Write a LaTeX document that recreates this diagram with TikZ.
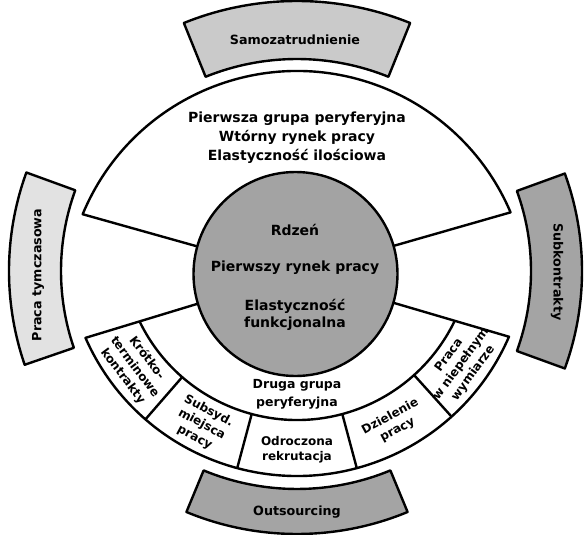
\documentclass[tikz,border=0pt]{standalone}
\usepackage{fontspec}
\setmainfont{DejaVu Sans}
\usetikzlibrary{calc}
\definecolor{bandlight}{HTML}{E2E2E2}
\definecolor{bandmid}{HTML}{CACACA}
\definecolor{banddark}{HTML}{A4A4A4}
\definecolor{coregray}{HTML}{A3A3A3}
\begin{document}
\begin{tikzpicture}[x=1pt,y=-1pt,
  outline/.style={draw=black,line width=2.4pt,line join=round},
  lbl/.style={font=\bfseries\fontsize{14}{19}\selectfont,align=center,inner sep=0pt},
  bandlbl/.style={font=\bfseries\fontsize{12.7}{15}\selectfont,inner sep=0pt},
  boxlbl/.style={font=\bfseries\fontsize{12}{15}\selectfont,align=center,inner sep=0pt}]
\useasboundingbox (0,0) rectangle (584,535);
% centres of the rings
\coordinate (O) at (295.5,274);  % core
\coordinate (U) at (297,303);    % upper fan
\coordinate (L) at (297,245);    % lower fan
\coordinate (C) at (297,271);    % side bands

% ---- outer bands ----
\path[outline,fill=bandmid]
  ($(U)+(-112:244)$) arc[start angle=-112,end angle=-68,radius=244]
  -- ($(U)+(-68:302)$) arc[start angle=-68,end angle=-112,radius=302] -- cycle;
\path[outline,fill=bandlight]
  ($(C)+(161:236)$) arc[start angle=161,end angle=200,radius=236]
  -- ($(C)+(200:288)$) arc[start angle=200,end angle=161,radius=288] -- cycle;
\path[outline,fill=banddark]
  ($(C)+(-20:234)$) arc[start angle=-20,end angle=20,radius=234]
  -- ($(C)+(20:285)$) arc[start angle=20,end angle=-20,radius=285] -- cycle;
\path[outline,fill=banddark]
  ($(L)+(67.5:244)$) arc[start angle=67.5,end angle=112.5,radius=244]
  -- ($(L)+(112.5:289)$) arc[start angle=112.5,end angle=67.5,radius=289] -- cycle;

% ---- upper fan ----
\path[outline,fill=white]
  ($(U)+(-157.5:232)$) arc[start angle=-157.5,end angle=-23,radius=232]
  -- (O) -- cycle;
% ---- lower fan ----
\path[outline,fill=white]
  ($(L)+(156.3:231)$) arc[start angle=156.3,end angle=23.4,radius=231]
  -- (O) -- cycle;
% inner arc of the lower fan and the cells
\draw[outline] ($(L)+(154.1:175)$) arc[start angle=154.1,end angle=25.7,radius=175];
\foreach \a in {131,105,75,48}
  \draw[outline] ($(L)+(\a:175)$) -- ($(L)+(\a:231)$);

% ---- core ----
\path[outline,fill=coregray] (O) circle[radius=102];

% ---- labels ----
\node[bandlbl] (samo) at (295,40) {Samozatrudnienie};
\node[bandlbl,rotate=90] (tymcz) at (38,275) {Praca tymczasowa};
\node[bandlbl,rotate=-90] (subk) at (557,272) {Subkontrakty};
\node[bandlbl] (outs) at (297,512) {Outsourcing};
\node[lbl] (peri1) at (297,138) {Pierwsza grupa peryferyjna\\Wtórny rynek pracy\\Elastyczność ilościowa};
\node[lbl] (rdzen) at (295,230) {Rdzeń};
\node[lbl] (rynek1) at (295,268) {Pierwszy rynek pracy};
\node[lbl,font=\bfseries\fontsize{14}{17}\selectfont] (funk) at (295,315) {Elastyczność\\funkcjonalna};
\node[lbl,font=\bfseries\fontsize{12.5}{18}\selectfont] (peri2) at (297,394) {Druga grupa\\peryferyjna};
\node[boxlbl,rotate=-53] (krotko) at ($(L)+(143:203)$) {Krótko-\\terminowe\\kontrakty};
\node[boxlbl,rotate=-28] (subs) at ($(L)+(118:203)$) {Subsyd.\\miejsca\\pracy};
\node[boxlbl] (odrocz) at ($(L)+(90:205)$) {Odroczona\\rekrutacja};
\node[boxlbl,rotate=28.5] (dziel) at ($(L)+(61.5:203)$) {Dzielenie\\pracy};
\node[boxlbl,rotate=54] (niepel) at ($(L)+(36:203)$) {Praca\\w niepełnym\\wymiarze};
\end{tikzpicture}
\end{document}
